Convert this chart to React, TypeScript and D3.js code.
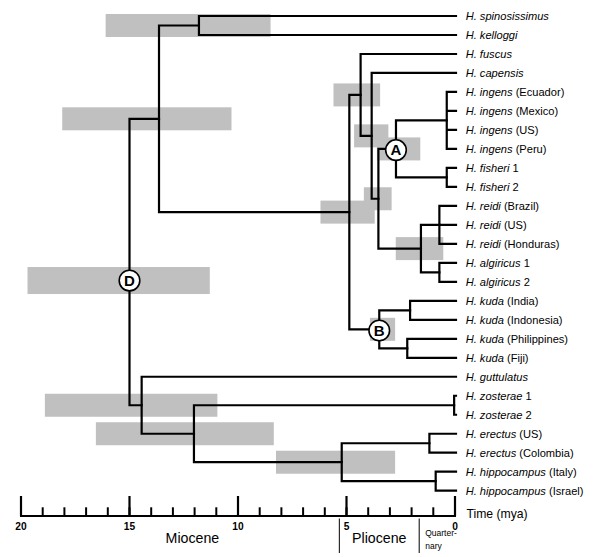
import React from "react";
import * as d3 from "d3";

// ---------- data ----------
const leafSpecies = [
  "spinosissimus", "kelloggi", "fuscus", "capensis",
  "ingens", "ingens", "ingens", "ingens",
  "fisheri", "fisheri",
  "reidi", "reidi", "reidi",
  "algiricus", "algiricus",
  "kuda", "kuda", "kuda", "kuda",
  "guttulatus", "zosterae", "zosterae",
  "erectus", "erectus", "hippocampus", "hippocampus",
];
const leafQualifiers = [
  "", "", "", "",
  "(Ecuador)", "(Mexico)", "(US)", "(Peru)",
  "1", "2",
  "(Brazil)", "(US)", "(Honduras)",
  "1", "2",
  "(India)", "(Indonesia)", "(Philippines)", "(Fiji)",
  "", "1", "2",
  "(US)", "(Colombia)", "(Italy)", "(Israel)",
];

// internal nodes: id, age (mya), children (number = leaf index, string = node id)
const nodeIds = ["D", "E", "N", "M", "L", "K", "C", "A", "ING", "FIS", "R", "REI", "ALG", "B", "KU1", "KU2", "F", "G", "ZOS", "H", "ERE", "HIP"];
const nodeAges = [15.0, 13.64, 11.8, 4.87, 4.35, 3.84, 3.53, 2.72, 0.38, 0.38, 1.57, 0.72, 0.72, 3.49, 2.07, 2.2, 14.44, 12.03, 0.04, 5.22, 1.18, 0.89];
const nodeChildren: (number | string)[][] = [
  ["E", "F"],
  ["N", "M"],
  [0, 1],
  ["L", "B"],
  [2, "K"],
  [3, "C"],
  ["A", "R"],
  ["ING", "FIS"],
  [4, 5, 6, 7],
  [8, 9],
  ["REI", "ALG"],
  [10, 11, 12],
  [13, 14],
  ["KU1", "KU2"],
  [15, 16],
  [17, 18],
  [19, "G"],
  ["ZOS", "H"],
  [20, 21],
  ["ERE", "HIP"],
  [22, 23],
  [24, 25],
];

// 95% intervals on node ages
const ciNodes = ["D", "E", "N", "M", "L", "K", "C", "A", "R", "B", "F", "G", "H"];
const ciOld = [19.7, 18.1, 16.1, 6.2, 5.6, 4.65, 4.2, 3.6, 2.73, 3.92, 18.9, 16.55, 8.25];
const ciYoung = [11.3, 10.3, 8.5, 3.7, 3.45, 3.07, 2.92, 1.6, 0.54, 2.76, 10.95, 8.35, 2.76];

const markerNodes = ["D", "A", "B"];

const majorTicks = [20, 15, 10, 5, 0];
const minorTicks = d3.range(0, 21);
const epochBoundaries = [5.33, 1.65];
const epochNames = ["Miocene", "Pliocene"];
const epochLabelAges = [12.1, 3.49];

// ---------- layout ----------
const W = 600;
const H = 557;
const FONT = "'Liberation Sans', Arial, Helvetica, sans-serif";

const x = d3.scaleLinear().domain([20, 0]).range([21, 455]);
const y = d3.scaleLinear().domain([0, leafSpecies.length - 1]).range([16, 490.7]);

const ageOf = new Map<string, number>();
nodeIds.forEach((id, i) => ageOf.set(id, nodeAges[i]));
const childrenOf = new Map<string, (number | string)[]>();
nodeIds.forEach((id, i) => childrenOf.set(id, nodeChildren[i]));

const yMemo = new Map<string, number>();
function yOf(ref: number | string): number {
  if (typeof ref === "number") return y(ref);
  if (yMemo.has(ref)) return yMemo.get(ref)!;
  const ch = childrenOf.get(ref)!;
  const v = (yOf(ch[0]) + yOf(ch[ch.length - 1])) / 2;
  yMemo.set(ref, v);
  return v;
}
function ageRef(ref: number | string): number {
  return typeof ref === "number" ? 0 : ageOf.get(ref)!;
}

// the D marker sits lower on its stem than the node midpoint
const markerDy = (id: string) => (id === "D" ? 18.5 : 0);

export default function App() {
  const branchPaths: string[] = [];
  nodeIds.forEach((id) => {
    const ch = childrenOf.get(id)!;
    const nx = x(ageOf.get(id)!);
    const p = d3.path();
    p.moveTo(nx, yOf(ch[0]));
    p.lineTo(nx, yOf(ch[ch.length - 1]));
    ch.forEach((c) => {
      p.moveTo(nx, yOf(c));
      p.lineTo(typeof c === "number" ? x(0) + 1 : x(ageRef(c)), yOf(c));
    });
    branchPaths.push(p.toString());
  });

  const axisY = 516;

  return (
    <svg
      width={W}
      height={H}
      viewBox={`0 0 ${W} ${H}`}
      style={{ position: "absolute", left: 0, top: 0, background: "#fff" }}
      fontFamily={FONT}
    >
      <rect x={0} y={0} width={W} height={H} fill="#fff" />
      {/* CI boxes */}
      {ciNodes.map((id, i) => {
        const cy = yOf(id) + markerDy(id);
        const h = id === "D" ? 27 : 23;
        return (
          <rect
            key={"ci" + id}
            x={x(ciOld[i])}
            width={x(ciYoung[i]) - x(ciOld[i])}
            y={cy - h / 2}
            height={h}
            fill="#c0c0c0"
          />
        );
      })}
      {/* branches */}
      {branchPaths.map((d, i) => (
        <path key={"b" + i} d={d} fill="none" stroke="#000" strokeWidth={2.2} strokeLinecap="square" />
      ))}
      {/* node markers */}
      {markerNodes.map((id) => {
        const cx = x(ageOf.get(id)!);
        const cy = yOf(id) + markerDy(id) + (id === "D" ? 0 : 1.2);
        return (
          <g key={"m" + id}>
            <circle cx={cx} cy={cy} r={10.3} fill="#fff" stroke="#000" strokeWidth={1.6} />
            <text x={cx} y={cy + 5.3} textAnchor="middle" fontSize={15} fontWeight="bold">
              {id}
            </text>
          </g>
        );
      })}
      {/* leaf labels */}
      {leafSpecies.map((sp, i) => (
        <text key={"l" + i} x={465.7} y={y(i) + 4} fontSize={11.1} fill="#000">
          <tspan fontStyle="italic">{"H. " + sp}</tspan>
          {leafQualifiers[i] ? <tspan>{" " + leafQualifiers[i]}</tspan> : null}
        </text>
      ))}
      {/* time axis */}
      <line x1={x(20) - 1} x2={x(0) + 1} y1={axisY} y2={axisY} stroke="#000" strokeWidth={2.2} />
      {minorTicks.map((t) => (
        <line key={"mt" + t} x1={x(t)} x2={x(t)} y1={axisY} y2={507.3} stroke="#000" strokeWidth={2} />
      ))}
      {majorTicks.map((t) => (
        <g key={"Mt" + t}>
          <line x1={x(t)} x2={x(t)} y1={axisY} y2={496} stroke="#000" strokeWidth={2.2} />
          <text x={x(t)} y={529.5} textAnchor="middle" fontSize={10.2} fontWeight="bold">
            {t}
          </text>
        </g>
      ))}
      <text x={466.5} y={518} fontSize={12.2}>Time (mya)</text>
      {/* epochs */}
      {epochBoundaries.map((b) => (
        <line key={"e" + b} x1={x(b)} x2={x(b)} y1={518.5} y2={553} stroke="#000" strokeWidth={1} />
      ))}
      {epochNames.map((n, i) => (
        <text key={"en" + n} x={x(epochLabelAges[i])} y={542.8} textAnchor="middle" fontSize={14.2}>
          {n}
        </text>
      ))}
      <text x={x(epochBoundaries[1]) + 6} y={536} fontSize={8.5}>Quarter-</text>
      <text x={x(epochBoundaries[1]) + 6} y={549.3} fontSize={8.5}>nary</text>
    </svg>
  );
}
